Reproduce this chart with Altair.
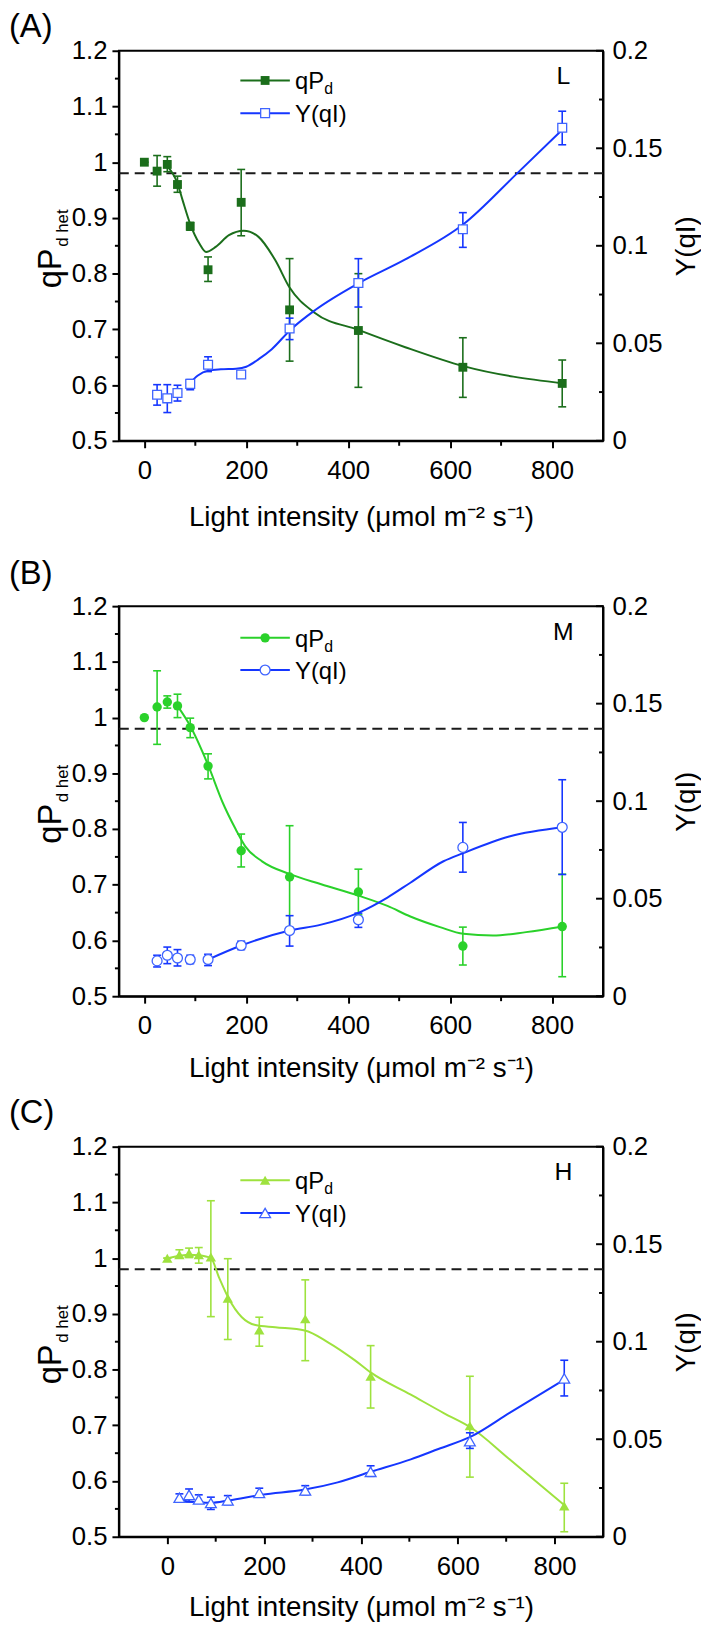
import altair as alt
import pandas as pd

FONT = "Liberation Sans"
W, H = 489, 394

# ---------------- data ----------------
LIGHT = [0, 25, 45, 65, 90, 125, 190, 285, 420, 625, 820]
LIGHT_YQI = [25, 45, 65, 90, 125, 190, 285, 420, 625, 820]

X_TICKS = [0, 200, 400, 600, 800]
X_MINOR = [100, 300, 500, 700]
L_TICKS = [0.5, 0.6, 0.7, 0.8, 0.9, 1.0, 1.1, 1.2]
L_MINOR = [0.55, 0.65, 0.75, 0.85, 0.95, 1.05, 1.15]
R_TICKS = [0.0, 0.05, 0.1, 0.15, 0.2]
R_MINOR = [0.025, 0.075, 0.125, 0.175]
THRESHOLD = [0.98]

X_TITLE = "Light intensity (\u03bcmol m\u207b\u00b2 s\u207b\u00b9)"
R_TITLE = "Y(qI)"
Y_TITLE_MAIN = ["qP"]
Y_TITLE_SUB = ["d het"]
LEG_Q_MAIN = ["qP"]
LEG_Q_SUB = ["d"]
LEG_Y = ["Y(qI)"]
PANEL_LETTERS = ["(A)", "(B)", "(C)"]
LEVELS = ["L", "M", "H"]

# Panel A (L)
A_Q = [1.000, 0.984, 0.996, 0.960, 0.885, 0.807, 0.928, 0.735, 0.698, 0.632, 0.603]
A_Q_HI = [1.000, 1.012, 1.010, 0.975, 0.892, 0.830, 0.987, 0.827, 0.800, 0.685, 0.645]
A_Q_LO = [1.000, 0.957, 0.983, 0.946, 0.878, 0.786, 0.868, 0.643, 0.596, 0.578, 0.561]
A_Y = [0.0236, 0.0218, 0.0245, 0.0292, 0.0390, 0.0340, 0.0576, 0.0809, 0.1085, 0.1605]
A_Y_HI = [0.0288, 0.0288, 0.0285, 0.0314, 0.0431, 0.0355, 0.0629, 0.0934, 0.1170, 0.1690]
A_Y_LO = [0.0183, 0.0145, 0.0204, 0.0262, 0.0355, 0.0323, 0.0519, 0.0686, 0.0992, 0.1518]
A_QFIT_X = [45, 65, 75, 90, 108, 121, 140, 166, 195, 224, 257, 285, 334, 420, 512, 626, 822]
A_QFIT_V = [0.993, 0.962, 0.932, 0.889, 0.854, 0.839, 0.848, 0.869, 0.877, 0.866, 0.824, 0.775,
            0.730, 0.699, 0.668, 0.634, 0.603]
A_YFIT_X = [88, 105, 125, 150, 180, 200, 225, 250, 287, 336, 421, 512, 626, 731, 822]
A_YFIT_V = [0.0292, 0.0335, 0.0360, 0.0367, 0.0370, 0.0380, 0.0420, 0.0470, 0.0570, 0.0672,
            0.0809, 0.0930, 0.1110, 0.1370, 0.1600]

# Panel B (M)
B_Q = [1.000, 1.019, 1.028, 1.021, 0.982, 0.913, 0.761, 0.714, 0.687, 0.590, 0.625]
B_Q_HI = [1.000, 1.084, 1.039, 1.042, 0.999, 0.935, 0.791, 0.806, 0.728, 0.624, 0.719]
B_Q_LO = [1.000, 0.952, 1.017, 1.000, 0.964, 0.890, 0.732, 0.622, 0.646, 0.556, 0.535]
B_Y = [0.0181, 0.0210, 0.0196, 0.0188, 0.0188, 0.0260, 0.0337, 0.0392, 0.0763, 0.0866]
B_Y_HI = [0.0210, 0.0252, 0.0239, 0.0210, 0.0215, 0.0282, 0.0413, 0.0426, 0.0891, 0.1110]
B_Y_LO = [0.0150, 0.0167, 0.0155, 0.0167, 0.0157, 0.0239, 0.0257, 0.0353, 0.0636, 0.0624]
B_QFIT_X = [65, 90, 125, 153, 179, 198, 231, 286, 347, 422, 477, 522, 580, 626, 684, 749, 822]
B_QFIT_V = [1.021, 0.985, 0.915, 0.849, 0.800, 0.769, 0.742, 0.719, 0.701, 0.680, 0.662, 0.643,
            0.624, 0.612, 0.609, 0.615, 0.625]
B_YFIT_X = [125, 190, 285, 347, 422, 477, 522, 587, 626, 716, 822]
B_YFIT_V = [0.0188, 0.0260, 0.0337, 0.0367, 0.0430, 0.0506, 0.0582, 0.0692, 0.0734, 0.0819, 0.0866]

# Panel C (H)
C_Q = [1.000, 1.006, 1.009, 1.006, 1.002, 0.928, 0.871, 0.891, 0.788, 0.699, 0.555]
C_Q_HI = [1.000, 1.015, 1.018, 1.019, 1.103, 0.999, 0.894, 0.961, 0.843, 0.788, 0.596]
C_Q_LO = [1.000, 1.000, 1.001, 0.991, 0.895, 0.854, 0.842, 0.816, 0.731, 0.607, 0.509]
C_Y = [0.0200, 0.0215, 0.0191, 0.0173, 0.0186, 0.0225, 0.0237, 0.0333, 0.0490, 0.0812]
C_Y_HI = [0.0220, 0.0245, 0.0215, 0.0203, 0.0211, 0.0249, 0.0262, 0.0364, 0.0533, 0.0905]
C_Y_LO = [0.0178, 0.0178, 0.0174, 0.0140, 0.0164, 0.0206, 0.0215, 0.0310, 0.0453, 0.0722]
C_QFIT_X = [0, 25, 45, 65, 90, 107, 126, 154, 182, 223, 284, 332, 387, 420, 503, 571, 627, 707, 821]
C_QFIT_V = [1.000, 1.004, 1.006, 1.005, 1.000, 0.965, 0.929, 0.894, 0.880, 0.876, 0.870, 0.849,
            0.817, 0.795, 0.755, 0.722, 0.696, 0.639, 0.556]
C_YFIT_X = [25, 60, 90, 127, 196, 284, 352, 420, 503, 560, 627, 707, 821]
C_YFIT_V = [0.0186, 0.0178, 0.0174, 0.0186, 0.0216, 0.0242, 0.0279, 0.0333, 0.0397, 0.0450,
            0.0513, 0.0635, 0.0807]

BLUE_LINE = "#1536ff"
BLUE_MARK = "#3f64ff"

PANELS = [
    dict(letter=0, xdom=[-50, 900], color="#1b6e1b", shape="square", fsize=80, hsize=80,
         q=A_Q, qhi=A_Q_HI, qlo=A_Q_LO, y=A_Y, yhi=A_Y_HI, ylo=A_Y_LO,
         qfx=A_QFIT_X, qfv=A_QFIT_V, yfx=A_YFIT_X, yfv=A_YFIT_V,
         letter_y=-24, xtitle_y=77.6, leg=(30, 63)),
    dict(letter=1, xdom=[-50, 900], color="#2ad12a", shape="circle", fsize=90, hsize=100,
         q=B_Q, qhi=B_Q_HI, qlo=B_Q_LO, y=B_Y, yhi=B_Y_HI, ylo=B_Y_LO,
         qfx=B_QFIT_X, qfv=B_QFIT_V, yfx=B_YFIT_X, yfv=B_YFIT_V,
         letter_y=-32, xtitle_y=73.6, leg=(32, 64.5)),
    dict(letter=2, xdom=[-100, 900], color="#9ee23e", shape="triangle-up", fsize=110, hsize=120,
         q=C_Q, qhi=C_Q_HI, qlo=C_Q_LO, y=C_Y, yhi=C_Y_HI, ylo=C_Y_LO,
         qfx=C_QFIT_X, qfv=C_QFIT_V, yfx=C_YFIT_X, yfv=C_YFIT_V,
         letter_y=-34, xtitle_y=71.6, leg=(34, 67)),
]


def text_layer(label, x, y, size, align="left", baseline="alphabetic", angle=0):
    kw = dict(font=FONT, fontSize=size, align=align, baseline=baseline, color="black")
    if angle:
        kw["angle"] = angle
    return alt.Chart(pd.DataFrame({"t": label})).mark_text(**kw).encode(
        text="t:N", x=alt.value(x), y=alt.value(y))


def make_panel(p):
    c = p["color"]
    xs = alt.Scale(domain=p["xdom"], nice=False, zero=False)
    ysl = alt.Scale(domain=[0.5, 1.2], nice=False, zero=False)
    ysr = alt.Scale(domain=[0.0, 0.2], nice=False, zero=False)
    xax = alt.Axis(values=X_TICKS, tickSize=7, labelPadding=10, labelFlush=False, labelOverlap=False,
                   title=X_TITLE, titleY=p["xtitle_y"], titleBaseline="middle", grid=False)
    ylax = alt.Axis(orient="left", values=L_TICKS, format="~g", tickSize=7, labelPadding=5,
                    labelOverlap=False, title=None, grid=False)
    yrax = alt.Axis(orient="right", values=R_TICKS, format="~g", ticks=False, labelPadding=9,
                    labelOverlap=False, title=R_TITLE, titleAngle=270, titleX=84, titleY=H / 2,
                    titleAlign="center", titleBaseline="middle", grid=False)

    def X(f):
        return alt.X(f + ":Q", scale=xs, axis=xax)

    def YL(f):
        return alt.Y(f + ":Q", scale=ysl, axis=ylax)

    def YR(f):
        return alt.Y(f + ":Q", scale=ysr, axis=yrax)

    qdf = pd.DataFrame({"x": LIGHT, "v": p["q"], "lo": p["qlo"], "hi": p["qhi"]})
    ydf = pd.DataFrame({"x": LIGHT_YQI, "v": p["y"], "lo": p["ylo"], "hi": p["yhi"]})
    qfit = pd.DataFrame({"x": p["qfx"], "v": p["qfv"]})
    yfit = pd.DataFrame({"x": p["yfx"], "v": p["yfv"]})

    thr = alt.Chart(pd.DataFrame({"v": THRESHOLD})).mark_rule(
        color="#1a1a1a", strokeWidth=2, strokeDash=[10, 6]).encode(
        y=YL("v"), x=alt.value(0), x2=alt.value(W))
    lminor = alt.Chart(pd.DataFrame({"v": L_MINOR})).mark_rule(color="black", strokeWidth=2).encode(
        y=YL("v"), x=alt.value(-4), x2=alt.value(0))
    xminor = alt.Chart(pd.DataFrame({"v": X_MINOR})).mark_rule(color="black", strokeWidth=2).encode(
        x=X("v"), y=alt.value(H), y2=alt.value(H + 5))
    qline = alt.Chart(qfit).mark_line(color=c, strokeWidth=2, interpolate="monotone").encode(
        x=X("x"), y=YL("v"))
    qerr = alt.Chart(qdf).mark_rule(color=c, strokeWidth=1.6).encode(
        x=X("x"), y=YL("lo"), y2=alt.Y2("hi"))
    qcap1 = alt.Chart(qdf).mark_tick(color=c, orient="horizontal", size=8, thickness=1.6, opacity=1).encode(
        x=X("x"), y=YL("hi"))
    qcap2 = alt.Chart(qdf).mark_tick(color=c, orient="horizontal", size=8, thickness=1.6, opacity=1).encode(
        x=X("x"), y=YL("lo"))
    qpts = alt.Chart(qdf).mark_point(shape=p["shape"], filled=True, color=c, size=p["fsize"], opacity=1).encode(
        x=X("x"), y=YL("v"))

    r1, r2 = p["leg"]
    leg_q_line = alt.Chart(pd.DataFrame({"t": LEG_Q_MAIN})).mark_rule(color=c, strokeWidth=2).encode(
        x=alt.value(122.7), x2=alt.value(172.7), y=alt.value(r1))
    leg_q_pt = alt.Chart(pd.DataFrame({"t": LEG_Q_MAIN})).mark_point(
        shape=p["shape"], filled=True, color=c, size=p["fsize"], opacity=1).encode(
        x=alt.value(147.7), y=alt.value(r1))
    leg_y_line = alt.Chart(pd.DataFrame({"t": LEG_Y})).mark_rule(color=BLUE_LINE, strokeWidth=2).encode(
        x=alt.value(122.7), x2=alt.value(172.7), y=alt.value(r2))
    leg_y_pt = alt.Chart(pd.DataFrame({"t": LEG_Y})).mark_point(
        shape=p["shape"], filled=True, fill="white", stroke=BLUE_MARK, strokeWidth=1.3,
        size=p["hsize"], opacity=1).encode(x=alt.value(147.7), y=alt.value(r2))

    texts = [
        text_layer(LEG_Q_MAIN, 178, r1 + 9, 24),
        text_layer(LEG_Q_SUB, 207.5, r1 + 14, 16),
        text_layer(LEG_Y, 178, r2 + 9, 24),
        text_layer([LEVELS[p["letter"]]], 449, 26, 25, align="center", baseline="middle"),
        text_layer([PANEL_LETTERS[p["letter"]]], -111, p["letter_y"], 33, baseline="middle"),
        text_layer(Y_TITLE_MAIN, -58, 240, 33, angle=270),
        text_layer(Y_TITLE_SUB, -51, 198, 17, angle=270),
    ]

    left = alt.layer(thr, lminor, xminor, qline, qerr, qcap1, qcap2, qpts,
                     leg_q_line, leg_q_pt, leg_y_line, *texts)

    rmajor = alt.Chart(pd.DataFrame({"v": R_TICKS})).mark_rule(color="black", strokeWidth=2).encode(
        y=YR("v"), x=alt.value(W - 7), x2=alt.value(W))
    rminor = alt.Chart(pd.DataFrame({"v": R_MINOR})).mark_rule(color="black", strokeWidth=2).encode(
        y=YR("v"), x=alt.value(W - 4), x2=alt.value(W))
    yline = alt.Chart(yfit).mark_line(color=BLUE_LINE, strokeWidth=2, interpolate="monotone").encode(
        x=X("x"), y=YR("v"))
    yerr = alt.Chart(ydf).mark_rule(color=BLUE_LINE, strokeWidth=1.6).encode(
        x=X("x"), y=YR("lo"), y2=alt.Y2("hi"))
    ycap1 = alt.Chart(ydf).mark_tick(color=BLUE_LINE, orient="horizontal", size=8, thickness=1.6, opacity=1).encode(
        x=X("x"), y=YR("hi"))
    ycap2 = alt.Chart(ydf).mark_tick(color=BLUE_LINE, orient="horizontal", size=8, thickness=1.6, opacity=1).encode(
        x=X("x"), y=YR("lo"))
    ypts = alt.Chart(ydf).mark_point(shape=p["shape"], filled=True, fill="white", stroke=BLUE_MARK,
                                     strokeWidth=1.3, size=p["hsize"], opacity=1).encode(
        x=X("x"), y=YR("v"))

    right = alt.layer(rmajor, rminor, yline, yerr, ycap1, ycap2, ypts, leg_y_pt)

    return alt.layer(left, right).resolve_scale(y="independent").properties(width=W, height=H)


pa, pb, pc = [make_panel(p) for p in PANELS]

chart = alt.vconcat(alt.vconcat(pa, pb, spacing=25), pc, spacing=12).properties(
    padding={"left": 0, "top": -6, "right": 0, "bottom": 0},
    background="white",
).configure_view(
    stroke="black", strokeWidth=2
).configure_axis(
    labelFont=FONT, titleFont=FONT, labelFontSize=26, titleFontSize=28,
    labelColor="black", titleColor="black", tickColor="black", domainColor="black",
    tickWidth=2, domainWidth=2, titleFontWeight="normal",
)

chart.save("out.html", embed_options={"renderer": "svg", "actions": False})
